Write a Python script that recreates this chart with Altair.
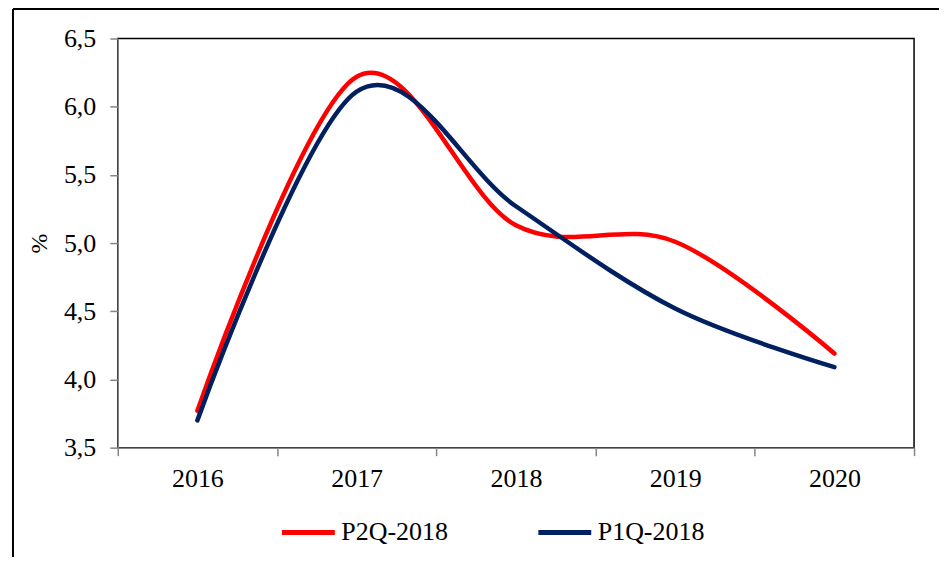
import altair as alt
import pandas as pd

years = ["2016", "2017", "2018", "2019", "2020"]
p2q_2018 = [3.77, 6.22, 5.13, 5.01, 4.19]
p1q_2018 = [3.70, 6.11, 5.27, 4.52, 4.09]
series_names = ["P2Q-2018", "P1Q-2018"]
series_colors = ["#FF0000", "#002060"]
y_ticks = [3.5, 4.0, 4.5, 5.0, 5.5, 6.0, 6.5]

df = pd.DataFrame({
    "year": years * 2,
    "value": p2q_2018 + p1q_2018,
    "series": [series_names[0]] * len(years) + [series_names[1]] * len(years),
})

FONT = "Liberation Serif"
GRAY = "#868686"

x_enc = alt.X(
    "year:O",
    sort=years,
    scale=alt.Scale(type="band", paddingInner=0, paddingOuter=0),
    axis=alt.Axis(
        title=None, labelAngle=0, tickBand="extent", tickSize=8,
        tickColor=GRAY, domainColor=GRAY, domainWidth=1.5, tickWidth=1.5,
        labelPadding=10, labelFontSize=26, labelFont=FONT, labelColor="black",
    ),
)
y_enc = alt.Y(
    "value:Q",
    scale=alt.Scale(domain=[3.5, 6.5], nice=False, zero=False),
    axis=alt.Axis(
        title="%", values=y_ticks, grid=False, tickSize=8,
        tickColor=GRAY, domainColor=GRAY, domainWidth=1.5, tickWidth=1.5,
        labelExpr="replace(format(datum.value, '.1f'), '.', ',')",
        labelPadding=14, labelFontSize=26, labelFont=FONT, labelColor="black",
        titleFont=FONT, titleFontSize=24, titleFontWeight="normal",
        titleColor="black", titlePadding=12,
    ),
)

color_enc = alt.Color(
    "series:N",
    scale=alt.Scale(domain=series_names, range=series_colors),
    legend=alt.Legend(
        title=None, orient="none", legendX=162, legendY=466,
        direction="horizontal", symbolType="stroke", symbolSize=2809,
        symbolStrokeWidth=5, labelFontSize=26, labelFont=FONT,
        labelColor="black", columnPadding=80, labelOffset=4, padding=0,
    ),
)

red = alt.Chart(df).transform_filter(
    alt.datum.series == series_names[0]
).mark_line(interpolate="cardinal", strokeWidth=4.5, strokeCap="round").encode(
    x=x_enc, y=y_enc, color=color_enc
)
blue = alt.Chart(df).transform_filter(
    alt.datum.series == series_names[1]
).mark_line(interpolate="cardinal", strokeWidth=4.5, strokeCap="round").encode(
    x=x_enc, y=y_enc, color=color_enc
)

frame_df = pd.DataFrame({"k": [0]})
frame_top = alt.Chart(frame_df).mark_rule(color="black", strokeWidth=2).encode(
    x=alt.value(-105), x2=alt.value(2000), y=alt.value(-29.5)
)
frame_left = alt.Chart(frame_df).mark_rule(color="black", strokeWidth=2).encode(
    x=alt.value(-105), y=alt.value(-29.5), y2=alt.value(2000)
)

chart = alt.layer(frame_top, frame_left, red, blue).properties(
    width=798, height=410,
    autosize="none",
    padding={"left": 110, "top": 30, "right": 25, "bottom": 109},
).configure_view(
    stroke="black", strokeWidth=1.5
)

chart.save("out.html", embed_options={"renderer": "svg", "actions": False})
